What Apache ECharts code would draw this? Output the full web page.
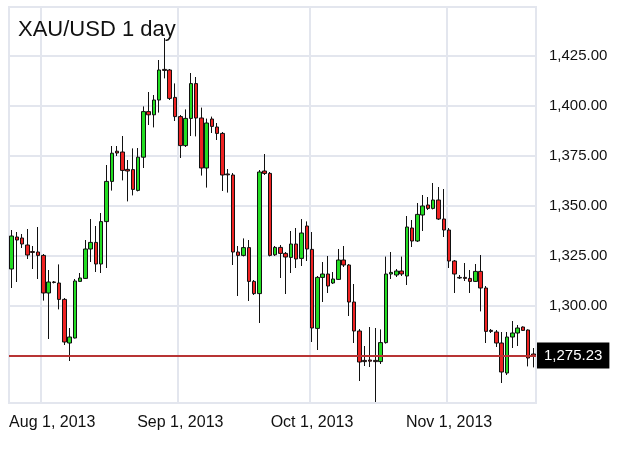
<!DOCTYPE html>
<html>
<head>
<meta charset="utf-8">
<script src="https://cdn.jsdelivr.net/npm/echarts@6/dist/echarts.min.js"></script>
<style>html,body{margin:0;padding:0;background:#fff;}#c{width:625px;height:457px;}</style>
</head>
<body>
<div id="c"></div>
<script>
var titleText = 'XAU/USD 1 day';
var dates = ['2013-07-25','2013-07-26','2013-07-28','2013-07-29','2013-07-30','2013-07-31','2013-08-01','2013-08-02','2013-08-04','2013-08-05',
'2013-08-06','2013-08-07','2013-08-08','2013-08-09','2013-08-11','2013-08-12','2013-08-13','2013-08-14','2013-08-15','2013-08-16',
'2013-08-18','2013-08-19','2013-08-20','2013-08-21','2013-08-22','2013-08-23','2013-08-25','2013-08-26','2013-08-27','2013-08-28',
'2013-08-29','2013-08-30','2013-09-01','2013-09-03','2013-09-04','2013-09-05','2013-09-06','2013-09-08','2013-09-09','2013-09-10',
'2013-09-11','2013-09-12','2013-09-13','2013-09-15','2013-09-16','2013-09-17','2013-09-18','2013-09-19','2013-09-20','2013-09-22',
'2013-09-23','2013-09-24','2013-09-25','2013-09-26','2013-09-27','2013-09-29','2013-09-30','2013-10-01','2013-10-02','2013-10-03',
'2013-10-04','2013-10-06','2013-10-07','2013-10-08','2013-10-09','2013-10-10','2013-10-11','2013-10-13','2013-10-15','2013-10-16',
'2013-10-17','2013-10-18','2013-10-20','2013-10-21','2013-10-22','2013-10-23','2013-10-24','2013-10-25','2013-10-27','2013-10-28',
'2013-10-29','2013-10-30','2013-10-31','2013-11-01','2013-11-03','2013-11-04','2013-11-05','2013-11-06','2013-11-07','2013-11-08',
'2013-11-10','2013-11-11','2013-11-12','2013-11-13','2013-11-14','2013-11-15','2013-11-17','2013-11-18','2013-11-19','2013-11-20'];
var opens = [1318.5,1334.5,1334,1330.5,1327.2,1327,1325.3,1306.5,1312,1311.5,
1303.3,1281.5,1284,1312.3,1313.8,1328.5,1331.8,1321,1342.2,1362.3,
1377.4,1377,1368.3,1368.2,1357.8,1374.4,1397.2,1395.6,1403,1418.3,
1418,1404.3,1394.7,1380.2,1393.8,1411.2,1394,1369,1393.5,1389.5,
1386.3,1366,1365.5,1327,1325.3,1329.2,1312.3,1306.2,1367.5,1366.3,
1325.6,1329.3,1326.3,1324.3,1331,1323.8,1340,1328.3,1288.8,1314.3,
1316,1311.5,1313.3,1323,1320.5,1302,1287.5,1272.8,1273,1272.8,
1272.2,1281.7,1316,1315.5,1317.5,1315,1339,1332.5,1345.5,1350.5,
1348.8,1353,1343.5,1338,1322.5,1314.3,1314.3,1313.8,1312.3,1317.3,
1309,1287.8,1287,1281.5,1266.5,1284.5,1286.5,1289.5,1288,1276];
var closes = [1335,1333,1331,1325.5,1326.8,1325.3,1306.5,1312,1311.8,1303.3,
1282,1284.5,1312.5,1314,1328.5,1331.8,1321,1342.2,1362.3,1376.4,
1376.5,1367.8,1367.5,1358.3,1374.4,1397.2,1395.6,1403,1418,1417.8,
1403.8,1394.7,1380.2,1393.8,1411.2,1394,1369,1391.5,1389.8,1386.3,
1365.5,1365.6,1327,1325.3,1329.2,1312.3,1306.2,1367,1366.3,1325.3,
1329.3,1326.3,1324.5,1331,1323.5,1336.5,1328.5,1289,1314.3,1316,
1310,1313.5,1323,1320.5,1302,1287.5,1272,1272.2,1272.4,1272.2,
1281.7,1316,1316.8,1317.5,1316,1339.5,1332.5,1345.8,1350,1348.8,
1353,1343.5,1338,1322.5,1316,1314,1313.8,1312.3,1317.3,1309,
1287.3,1287.3,1281.5,1267,1284.5,1286.5,1289,1287.8,1274,1275.23];
var lows = [1309,1312,1329,1323.5,1318.5,1313.5,1302.7,1283.5,1311.3,1298.3,
1280.5,1272.5,1283.8,1312,1313.5,1322,1317,1316.5,1319,1357.7,
1375,1362.8,1352.3,1355.3,1357.3,1369,1390.5,1389.3,1396.7,1413.8,
1403,1392.5,1374,1379.5,1385,1384.8,1365.2,1359.2,1386.5,1383,
1357.5,1356.7,1320.5,1305,1324.8,1302.5,1305.5,1291.5,1365.5,1324.8,
1325,1314,1306,1316.5,1319,1320,1322.5,1282,1278,1302,
1306.5,1311,1313,1319.5,1295,1281.5,1262.5,1270,1269.5,1252,
1271,1281.2,1313.5,1314.5,1315,1310.5,1329.5,1332,1337.5,1348,
1348.3,1343,1334.5,1319,1306.5,1313.5,1312.5,1306.5,1312,1297.3,
1281.5,1286.5,1279.5,1261.5,1265.5,1279,1280,1287.5,1269.8,1269.3];
var highs = [1338,1337,1336,1338.5,1330,1339.5,1326,1318,1312.5,1320.8,
1304,1289,1313.5,1316.5,1333,1343.5,1340,1346.5,1370.5,1380,
1380,1385,1373,1378.8,1379,1399.8,1407,1405.5,1423,1434,
1418.5,1411.3,1395.5,1398.3,1416.5,1414.5,1399.2,1393.7,1394.7,1391.5,
1387,1368.5,1366.5,1330,1333.8,1333,1313,1368,1376,1367,
1330,1330.5,1327,1337.5,1339,1343.5,1342.3,1337,1315,1322,
1325,1317,1328.5,1330,1321,1311,1288.5,1280,1289.5,1289,
1288.3,1324.7,1327,1318.5,1324.7,1345,1343,1351.5,1355.5,1354.5,
1361.5,1359.5,1358.5,1339,1323,1315.5,1321.5,1318,1321,1325.5,
1310,1288.5,1288,1287,1287,1292.5,1290.5,1289.8,1288.3,1279];
var yTicks = [1300, 1325, 1350, 1375, 1400, 1425];
var yMin = 1251.5, yMax = 1449.5;
var lastPrice = closes[closes.length - 1];

var monthNames = ['Jan','Feb','Mar','Apr','May','Jun','Jul','Aug','Sep','Oct','Nov','Dec'];
var monthStart = {};
for (var i = 1; i < dates.length; i++) {
  if (dates[i].slice(5, 7) !== dates[i - 1].slice(5, 7)) monthStart[i] = true;
}
var firstMonthIdx = Math.min.apply(null, Object.keys(monthStart).map(Number));
function fmtDate(s) {
  var p = s.split('-');
  return monthNames[parseInt(p[1], 10) - 1] + ' ' + parseInt(p[2], 10) + ', ' + p[0];
}
function fmtNum(v) {
  return Number(v).toLocaleString('en-US', {minimumFractionDigits: 2, maximumFractionDigits: 2});
}
var candleData = dates.map(function (d, i) { return [opens[i], closes[i], lows[i], highs[i]]; });
var gridColor = '#e3e6ee';

var chart = echarts.init(document.getElementById('c'), null, {renderer: 'canvas'});
chart.setOption({
  animation: false,
  backgroundColor: '#ffffff',
  title: {
    text: titleText, left: 18, top: 19, padding: 0,
    textStyle: {fontFamily: 'Liberation Sans', fontSize: 22, fontWeight: 'normal', color: '#111111'}
  },
  grid: {left: 9, right: 89, top: 7, bottom: 54, show: true, borderColor: gridColor, borderWidth: 2},
  xAxis: {
    type: 'category', data: dates, boundaryGap: true,
    axisLine: {show: false}, axisTick: {show: false},
    axisLabel: {
      interval: function (i) { return !!monthStart[i]; },
      formatter: function (v, i) {
        return i === firstMonthIdx ? '{s|' + fmtDate(v) + '}' : fmtDate(v);
      },
      rich: {s: {padding: [0, 0, 0, 18], fontFamily: 'Liberation Sans', fontSize: 16, color: '#111111'}},
      margin: 12, fontFamily: 'Liberation Sans', fontSize: 16, color: '#111111'
    },
    splitLine: {show: true, interval: function (i) { return !!monthStart[i]; }, lineStyle: {color: gridColor, width: 2}}
  },
  yAxis: {
    type: 'value', position: 'right', min: yMin, max: yMax, scale: true,
    axisLine: {show: false},
    axisTick: {show: false, customValues: yTicks},
    axisLabel: {customValues: yTicks, formatter: fmtNum, margin: 13, fontFamily: 'Liberation Sans', fontSize: 15, color: '#111111'},
    splitLine: {show: true, lineStyle: {color: gridColor, width: 2}}
  },
  series: [{
    type: 'candlestick',
    data: candleData,
    barWidth: 4,
    itemStyle: {color: '#22dd22', color0: '#ee2222', borderColor: '#111111', borderColor0: '#111111', borderWidth: 1},
    markLine: {
      silent: true, symbol: ['none', 'none'],
      lineStyle: {color: '#b83434', width: 2, type: 'solid'},
      label: {
        show: true, position: 'end', distance: 1,
        formatter: function () { return fmtNum(lastPrice); },
        backgroundColor: '#000000', color: '#ffffff', padding: [6, 7, 5, 7],
        fontFamily: 'Liberation Sans', fontSize: 15
      },
      data: [{yAxis: lastPrice}]
    }
  }]
});
</script>
</body>
</html>
